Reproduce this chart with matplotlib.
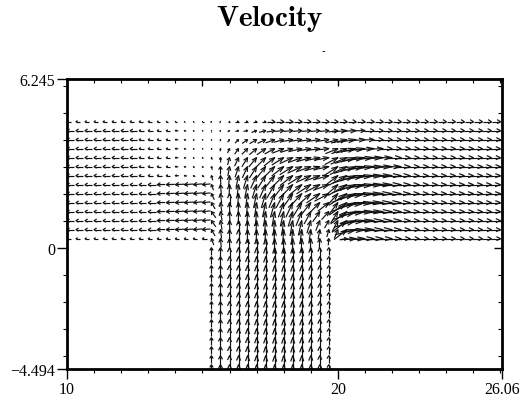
import numpy as np
import matplotlib
matplotlib.use('Agg')
import matplotlib.pyplot as plt
from matplotlib.collections import LineCollection

plt.rcParams['mathtext.fontset'] = 'cm'

# window and tick labels
x_min, x_max = 10, 26.06
y_min, y_max = -4.494, 6.245
x_ticks = [10, 20, 26.06]
x_labels = ['10', '20', '26.06']
y_ticks = [-4.494, 0, 6.245]
y_labels = ['\u22124.494', '0', '6.245']

# grid step of the field (1/3 of a unit)
step = 1 / 3

# ---- horizontal channel, rows from top (y=14/3) down to y=1/3 ----
# left branch, columns x=10 .. 12.33: speed (x100), pointing left
left_speed = [15, 24, 24, 24, 24, 24, 24, 24, 24, 24, 24, 24, 24, 15]
# left branch near the junction, columns x=12.67 .. 15
left_near_len = [
    [14, 13, 11, 8, 6, 4, 4, 4],
    [16, 16, 15, 14, 11, 7, 5, 4],
    [16, 16, 15, 14, 11, 7, 5, 4],
    [16, 16, 15, 14, 11, 7, 5, 4],
    [16, 16, 15, 14, 11, 7, 5, 5],
    [16, 16, 15, 14, 11, 7, 6, 6],
    [18, 17, 16, 15, 13, 10, 8, 8],
    [25, 27, 29, 31, 33, 33, 33, 30],
    [25, 27, 29, 31, 33, 33, 33, 30],
    [25, 27, 29, 31, 33, 33, 33, 30],
    [25, 27, 29, 31, 33, 33, 33, 30],
    [25, 27, 29, 31, 33, 33, 33, 30],
    [25, 27, 29, 31, 33, 33, 33, 30],
    [15, 15, 15, 15, 15, 15, 15, 17],
]
left_near_ang = [
    [180, 180, 180, 180, 180, 180, 180, 180],
    [180, 180, 180, 180, 175, 160, 135, 135],
    [180, 180, 180, 180, 175, 160, 135, 135],
    [180, 180, 180, 180, 175, 160, 135, 135],
    [180, 180, 180, 180, 175, 160, 135, 135],
    [180, 180, 180, 180, 175, 160, 135, 130],
    [180, 180, 180, 180, 178, 170, 150, 140],
    [180, 180, 181, 182, 183, 184, 185, 185],
    [180, 180, 181, 182, 183, 184, 185, 185],
    [180, 180, 181, 182, 183, 184, 185, 185],
    [180, 180, 181, 182, 183, 184, 185, 185],
    [180, 180, 181, 182, 183, 184, 185, 185],
    [180, 180, 181, 182, 183, 184, 185, 185],
    [180, 180, 180, 180, 180, 180, 180, 180],
]

# junction, columns x=15.33 .. 19.67
junc_len = [
    [5, 5, 5, 13, 13, 13, 13, 28, 30, 30, 30, 30, 30, 30],
    [4, 5, 8, 12, 15, 20, 25, 30, 33, 33, 33, 33, 33, 33],
    [4, 6, 12, 18, 25, 30, 33, 36, 38, 40, 42, 42, 42, 42],
    [5, 10, 18, 25, 30, 35, 40, 42, 45, 46, 47, 48, 48, 48],
    [8, 18, 28, 35, 40, 45, 48, 50, 52, 53, 54, 55, 55, 55],
    [12, 28, 36, 42, 46, 50, 52, 55, 56, 57, 58, 58, 58, 58],
    [18, 32, 40, 45, 50, 52, 55, 57, 58, 60, 60, 60, 60, 60],
    [22, 35, 42, 46, 50, 53, 55, 58, 60, 62, 63, 63, 62, 62],
    [25, 36, 42, 46, 50, 53, 55, 57, 60, 62, 63, 62, 60, 60],
    [27, 36, 42, 46, 50, 53, 55, 57, 58, 60, 60, 58, 55, 52],
    [28, 35, 41, 46, 50, 52, 54, 55, 56, 58, 57, 52, 46, 40],
    [28, 34, 40, 45, 49, 52, 54, 55, 56, 57, 56, 48, 40, 32],
    [27, 33, 40, 45, 49, 52, 54, 55, 55, 56, 54, 47, 37, 28],
    [25, 33, 40, 45, 49, 52, 54, 55, 55, 54, 52, 46, 36, 25],
]
junc_ang = [
    [0, 0, 0, 0, 0, 0, 0, 0, 0, 0, 0, 0, 0, 0],
    [90, 60, 30, 15, 10, 20, 15, 10, 5, 5, 5, 5, 5, 5],
    [100, 80, 55, 45, 35, 30, 25, 20, 15, 10, 8, 8, 8, 8],
    [110, 85, 65, 55, 45, 40, 35, 28, 22, 17, 13, 10, 8, 6],
    [110, 92, 75, 65, 58, 50, 45, 38, 32, 25, 20, 16, 12, 10],
    [105, 90, 80, 72, 65, 58, 52, 45, 38, 32, 25, 20, 15, 12],
    [105, 92, 85, 78, 72, 65, 58, 52, 45, 38, 32, 25, 20, 15],
    [110, 95, 88, 83, 78, 72, 66, 60, 53, 46, 40, 33, 27, 20],
    [115, 97, 90, 86, 82, 78, 73, 68, 62, 55, 48, 42, 35, 28],
    [120, 98, 91, 88, 85, 82, 78, 74, 70, 65, 58, 52, 45, 38],
    [125, 100, 92, 89, 87, 85, 82, 80, 77, 73, 68, 62, 55, 48],
    [125, 100, 92, 90, 88, 87, 85, 84, 82, 80, 77, 73, 68, 60],
    [120, 97, 91, 90, 89, 88, 87, 87, 86, 85, 83, 82, 80, 75],
    [110, 95, 91, 90, 90, 90, 90, 89, 89, 89, 88, 88, 87, 85],
]

# right branch near the junction, columns x=20 .. 23.33
right_near_len = [
    [30, 30, 30, 30, 30, 30, 30, 30, 30, 30, 30],
    [35, 55, 50, 40, 35, 35, 35, 35, 35, 35, 35],
    [45, 60, 70, 55, 45, 40, 38, 38, 38, 38, 38],
    [50, 60, 75, 80, 70, 55, 45, 42, 42, 42, 42],
    [55, 65, 80, 85, 85, 80, 70, 55, 45, 43, 42],
    [60, 70, 85, 90, 90, 85, 80, 70, 55, 47, 45],
    [60, 75, 90, 95, 95, 90, 85, 75, 60, 50, 47],
    [60, 80, 92, 95, 95, 92, 88, 78, 62, 52, 48],
    [60, 80, 95, 100, 100, 95, 90, 80, 65, 52, 48],
    [55, 80, 95, 100, 100, 95, 90, 80, 65, 50, 47],
    [50, 75, 90, 95, 95, 90, 85, 75, 60, 50, 45],
    [45, 70, 85, 90, 90, 85, 80, 70, 55, 47, 42],
    [35, 60, 80, 85, 85, 80, 75, 65, 50, 42, 40],
    [0, 25, 60, 70, 70, 70, 65, 55, 45, 40, 36],
]
right_near_ang = [
    [0, 0, 0, 0, 0, 0, 0, 0, 0, 0, 0],
    [8, 5, 3, 1, 0, 0, 0, 0, 0, 0, 0],
    [15, 12, 8, 4, 2, 0, 0, 0, 0, 0, 0],
    [22, 18, 12, 7, 4, 2, 0, 0, 0, 0, 0],
    [28, 22, 15, 9, 5, 3, 1, 0, 0, 0, 0],
    [33, 25, 17, 10, 6, 3, 2, 1, 0, 0, 0],
    [38, 28, 18, 11, 6, 3, 1, 0, 0, 0, 0],
    [42, 30, 19, 11, 6, 3, 1, 0, 0, 0, 0],
    [48, 33, 20, 11, 5, 2, 0, 0, 0, 0, 0],
    [53, 35, 20, 10, 4, 1, 0, 0, 0, 0, 0],
    [58, 37, 19, 9, 3, 1, 0, 0, 0, 0, 0],
    [63, 38, 17, 7, 2, 0, 0, 0, 0, 0, 0],
    [68, 38, 14, 5, 1, 0, 0, 0, 0, 0, 0],
    [0, 8, 4, 2, 0, 0, 0, 0, 0, 0, 0],
]
# right branch further out, columns x=23.67 .. 26: speed (x100), pointing right
right_speed = [30, 35, 38, 42, 42, 45, 47, 48, 48, 47, 45, 42, 40, 36]

# ---- vertical inlet channel, columns x=15.33 .. 19.67, rows y=-14/3 .. 0 ----
inlet_speed = [26, 34, 40, 45, 49, 52, 54, 55, 55, 54, 52, 46, 37, 27]

# collect every arrow: tip position (grid point), length, angle
xs, ys, lens, angs = [], [], [], []
n_rows = len(left_speed)
for r in range(n_rows):
    j = n_rows - r
    row = []
    row += [(left_speed[r], 180)] * 8
    row += list(zip(left_near_len[r], left_near_ang[r]))
    row += list(zip(junc_len[r], junc_ang[r]))
    row += list(zip(right_near_len[r], right_near_ang[r]))
    row += [(right_speed[r], 0)] * 8
    for k, (L, a) in enumerate(row):
        xs.append(10 + k * step)
        ys.append(j * step)
        lens.append(L / 100)
        angs.append(a)

for j in range(-14, 1):
    for c, L in enumerate(inlet_speed):
        xs.append(10 + (16 + c) * step)
        ys.append(j * step)
        lens.append(L / 100)
        angs.append(90)

xs = np.array(xs)
ys = np.array(ys)
lens = np.array(lens)
th = np.deg2rad(angs)
u = lens * np.cos(th)
v = lens * np.sin(th)

# open "V" arrows pinned at the tip: head length follows the arrow length,
# head half-width follows it too but is capped, so long arrows get thin wedges
head = 0.4
half_w = 0.25
half_w_max = 0.075
segs = []
for x, y, uu, vv, L in zip(xs, ys, u, v, lens):
    if L <= 0:
        continue
    dx, dy = uu / L, vv / L
    hl = head * L
    hw = min(half_w * L, half_w_max)
    bx, by = x - hl * dx, y - hl * dy
    segs.append([(x - uu, y - vv), (x, y)])
    segs.append([(bx - hw * dy, by + hw * dx), (x, y), (bx + hw * dy, by - hw * dx)])

fig = plt.figure(figsize=(5.26, 4.06), dpi=100)
ax = fig.add_axes([67 / 526, 1 - 370 / 406, 435 / 526, 290 / 406])
ax.add_collection(LineCollection(segs, colors='#111111', linewidths=0.85))

ax.set_xlim(x_min, x_max)
ax.set_ylim(y_min, y_max)
for sp in ax.spines.values():
    sp.set_linewidth(2)

ax.set_xticks(x_ticks, x_labels)
ax.set_xticks([t for t in range(11, 27) if t != 20], minor=True)
ax.set_yticks(y_ticks, y_labels)
ax.set_yticks([t for t in range(-4, 7) if t != 0], minor=True)
ax.tick_params(which='major', direction='out', length=7, width=1, pad=1.5,
               labelsize=11.5, labelfontfamily='Liberation Serif')
ax.tick_params(which='minor', direction='out', length=3, width=0.8)

top = ax.secondary_xaxis('top')
top.set_xticks([15, 20], ['', ''])
top.set_xticks([t for t in range(11, 27) if t not in (15, 20)], minor=True)
top.tick_params(which='major', direction='in', length=5, width=1)
top.tick_params(which='minor', direction='in', length=3, width=0.8)

right = ax.secondary_yaxis('right')
right.set_yticks([0], [''])
right.set_yticks([t for t in range(-4, 7) if t != 0], minor=True)
right.tick_params(which='major', direction='in', length=6, width=1)
right.tick_params(which='minor', direction='in', length=3, width=0.8)

fig.text(270 / 526, 1 - 26 / 406, r'$\mathbf{Velocity}$', fontsize=21,
         ha='center', va='baseline')
fig.text(323 / 526, 1 - 51 / 406, '-', fontsize=7, ha='center', va='center')

fig.savefig('out.png', dpi=100)
